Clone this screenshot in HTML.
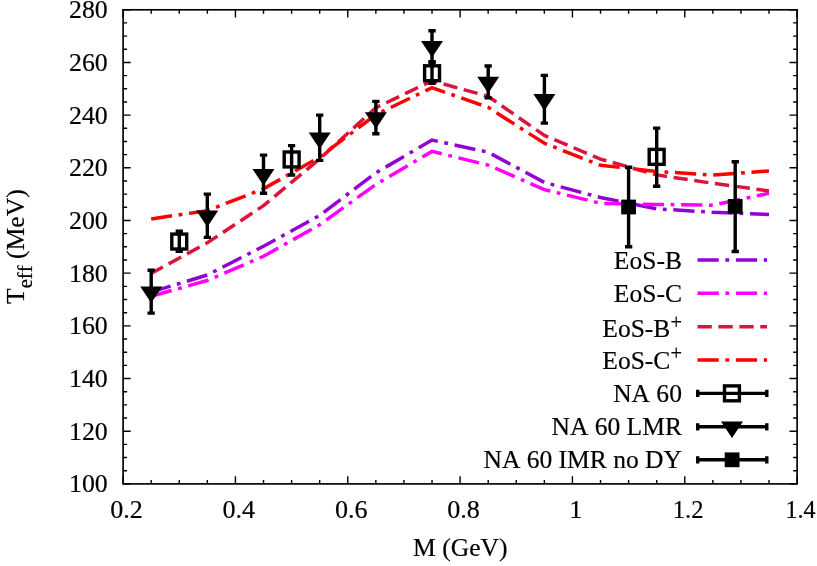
<!DOCTYPE html>
<html><head><meta charset="utf-8"><title>Teff vs M</title>
<style>html,body{margin:0;padding:0;background:#fff;}body{width:817px;height:566px;overflow:hidden;}svg{display:block;will-change:transform;}text{font-kerning:none;font-family:"Liberation Serif", serif;font-size:25px;fill:#000;stroke:#000;stroke-width:0.18px;}</style>
</head><body>
<svg width="817" height="566" viewBox="0 0 817 566">
<rect x="0" y="0" width="817" height="566" fill="#ffffff"/>
<polyline points="151.2,292.1 207.3,275.0 263.5,246.2 319.7,215.4 375.9,172.8 432.0,140.1 488.2,152.2 544.4,182.5 600.5,197.5 656.7,208.8 712.9,212.3 769.0,214.4" fill="none" stroke="#9400d3" stroke-width="3.5" stroke-dasharray="21.25 6.65 3.8 6.68" stroke-dashoffset="1" stroke-linejoin="miter"/>
<polyline points="151.2,296.3 207.3,280.5 263.5,256.3 319.7,224.7 375.9,184.4 432.0,151.4 488.2,165.1 544.4,189.6 600.5,203.3 656.7,204.4 712.9,205.2 769.0,193.3" fill="none" stroke="#ff00ff" stroke-width="3.5" stroke-dasharray="21.25 6.65 3.8 6.68" stroke-dashoffset="0" stroke-linejoin="miter"/>
<polyline points="151.2,273.4 207.3,242.8 263.5,205.7 319.7,158.8 375.9,107.7 432.0,80.8 488.2,96.4 544.4,135.4 600.5,159.1 656.7,174.9 712.9,183.3 769.0,190.9" fill="none" stroke="#dc143c" stroke-width="3.5" stroke-dasharray="14.3 6.62" stroke-dashoffset="1" stroke-linejoin="miter"/>
<polyline points="151.2,218.9 207.3,210.7 263.5,188.8 319.7,157.0 375.9,114.6 432.0,87.7 488.2,107.4 544.4,143.3 600.5,165.3 656.7,171.4 712.9,175.1 769.0,170.9" fill="none" stroke="#ff0000" stroke-width="3.5" stroke-dasharray="21.25 6.65 3.8 6.68" stroke-dashoffset="0.2" stroke-linejoin="miter"/>
<path d="M179.3 231.3V251.4M175.6 231.3H182.9M175.6 251.4H182.9" stroke="#000" stroke-width="3.4" fill="none"/>
<rect x="171.8" y="234.1" width="14.9" height="14.9" fill="none" stroke="#000" stroke-width="3.4"/>
<path d="M291.6 145.6V175.0M288.0 145.6H295.2M288.0 175.0H295.2" stroke="#000" stroke-width="3.4" fill="none"/>
<rect x="284.2" y="152.0" width="14.9" height="14.9" fill="none" stroke="#000" stroke-width="3.4"/>
<path d="M432.0 62.6V83.2M428.4 62.6H435.7M428.4 83.2H435.7" stroke="#000" stroke-width="3.4" fill="none"/>
<rect x="424.6" y="65.8" width="14.9" height="14.9" fill="none" stroke="#000" stroke-width="3.4"/>
<path d="M656.7 128.1V186.3M653.0 128.1H660.3M653.0 186.3H660.3" stroke="#000" stroke-width="3.4" fill="none"/>
<rect x="649.2" y="149.4" width="14.9" height="14.9" fill="none" stroke="#000" stroke-width="3.4"/>
<path d="M151.2 270.3V313.1M147.5 270.3H154.8M147.5 313.1H154.8" stroke="#000" stroke-width="3.4" fill="none"/>
<path d="M140.2 286.4L162.2 286.4L151.2 303.0Z" fill="#000"/>
<path d="M207.3 194.1V237.4M203.7 194.1H211.0M203.7 237.4H211.0" stroke="#000" stroke-width="3.4" fill="none"/>
<path d="M196.3 210.4L218.3 210.4L207.3 227.1Z" fill="#000"/>
<path d="M263.5 155.1V193.3M259.9 155.1H267.2M259.9 193.3H267.2" stroke="#000" stroke-width="3.4" fill="none"/>
<path d="M252.5 168.9L274.5 168.9L263.5 185.5Z" fill="#000"/>
<path d="M319.7 115.1V160.4M316.0 115.1H323.3M316.0 160.4H323.3" stroke="#000" stroke-width="3.4" fill="none"/>
<path d="M308.7 132.4L330.7 132.4L319.7 149.1Z" fill="#000"/>
<path d="M375.9 101.4V133.7M372.2 101.4H379.5M372.2 133.7H379.5" stroke="#000" stroke-width="3.4" fill="none"/>
<path d="M364.9 112.2L386.9 112.2L375.9 128.8Z" fill="#000"/>
<path d="M432.0 30.7V61.7M428.4 30.7H435.7M428.4 61.7H435.7" stroke="#000" stroke-width="3.4" fill="none"/>
<path d="M421.0 40.9L443.0 40.9L432.0 57.5Z" fill="#000"/>
<path d="M488.2 66.0V97.9M484.5 66.0H491.8M484.5 97.9H491.8" stroke="#000" stroke-width="3.4" fill="none"/>
<path d="M477.2 76.7L499.2 76.7L488.2 93.3Z" fill="#000"/>
<path d="M544.4 75.4V123.1M540.7 75.4H548.0M540.7 123.1H548.0" stroke="#000" stroke-width="3.4" fill="none"/>
<path d="M533.4 94.1L555.4 94.1L544.4 110.7Z" fill="#000"/>
<path d="M628.6 167.3V246.8M625.0 167.3H632.3M625.0 246.8H632.3" stroke="#000" stroke-width="3.4" fill="none"/>
<rect x="621.2" y="199.6" width="14.8" height="14.8" fill="#000"/>
<path d="M735.2 161.8V251.5M731.6 161.8H738.9M731.6 251.5H738.9" stroke="#000" stroke-width="3.4" fill="none"/>
<rect x="727.8" y="199.0" width="14.8" height="14.8" fill="#000"/>
<path d="M123.1 483.90h7.6M797.1 483.90h-7.6M123.1 470.73h4.0M797.1 470.73h-4.0M123.1 457.56h4.0M797.1 457.56h-4.0M123.1 444.39h4.0M797.1 444.39h-4.0M123.1 431.22h7.6M797.1 431.22h-7.6M123.1 418.05h4.0M797.1 418.05h-4.0M123.1 404.88h4.0M797.1 404.88h-4.0M123.1 391.70h4.0M797.1 391.70h-4.0M123.1 378.53h7.6M797.1 378.53h-7.6M123.1 365.36h4.0M797.1 365.36h-4.0M123.1 352.19h4.0M797.1 352.19h-4.0M123.1 339.02h4.0M797.1 339.02h-4.0M123.1 325.85h7.6M797.1 325.85h-7.6M123.1 312.68h4.0M797.1 312.68h-4.0M123.1 299.51h4.0M797.1 299.51h-4.0M123.1 286.34h4.0M797.1 286.34h-4.0M123.1 273.17h7.6M797.1 273.17h-7.6M123.1 260.00h4.0M797.1 260.00h-4.0M123.1 246.82h4.0M797.1 246.82h-4.0M123.1 233.65h4.0M797.1 233.65h-4.0M123.1 220.48h7.6M797.1 220.48h-7.6M123.1 207.31h4.0M797.1 207.31h-4.0M123.1 194.14h4.0M797.1 194.14h-4.0M123.1 180.97h4.0M797.1 180.97h-4.0M123.1 167.80h7.6M797.1 167.80h-7.6M123.1 154.63h4.0M797.1 154.63h-4.0M123.1 141.46h4.0M797.1 141.46h-4.0M123.1 128.29h4.0M797.1 128.29h-4.0M123.1 115.12h7.6M797.1 115.12h-7.6M123.1 101.95h4.0M797.1 101.95h-4.0M123.1 88.77h4.0M797.1 88.77h-4.0M123.1 75.60h4.0M797.1 75.60h-4.0M123.1 62.43h7.6M797.1 62.43h-7.6M123.1 49.26h4.0M797.1 49.26h-4.0M123.1 36.09h4.0M797.1 36.09h-4.0M123.1 22.92h4.0M797.1 22.92h-4.0M123.1 9.75h7.6M797.1 9.75h-7.6M123.10 483.9v-7.6M123.10 9.8v7.6M151.18 483.9v-4.0M151.18 9.8v4.0M179.27 483.9v-4.0M179.27 9.8v4.0M207.35 483.9v-4.0M207.35 9.8v4.0M235.43 483.9v-7.6M235.43 9.8v7.6M263.52 483.9v-4.0M263.52 9.8v4.0M291.60 483.9v-4.0M291.60 9.8v4.0M319.68 483.9v-4.0M319.68 9.8v4.0M347.77 483.9v-7.6M347.77 9.8v7.6M375.85 483.9v-4.0M375.85 9.8v4.0M403.93 483.9v-4.0M403.93 9.8v4.0M432.02 483.9v-4.0M432.02 9.8v4.0M460.10 483.9v-7.6M460.10 9.8v7.6M488.18 483.9v-4.0M488.18 9.8v4.0M516.27 483.9v-4.0M516.27 9.8v4.0M544.35 483.9v-4.0M544.35 9.8v4.0M572.43 483.9v-7.6M572.43 9.8v7.6M600.52 483.9v-4.0M600.52 9.8v4.0M628.60 483.9v-4.0M628.60 9.8v4.0M656.68 483.9v-4.0M656.68 9.8v4.0M684.77 483.9v-7.6M684.77 9.8v7.6M712.85 483.9v-4.0M712.85 9.8v4.0M740.93 483.9v-4.0M740.93 9.8v4.0M769.02 483.9v-4.0M769.02 9.8v4.0M797.10 483.9v-7.6M797.10 9.8v7.6" stroke="#000" stroke-width="1.4" fill="none"/>
<rect x="123.1" y="9.8" width="674.0" height="474.1" fill="none" stroke="#000" stroke-width="1.65"/>
<text transform="translate(107.8,492.3) scale(1.035,1)" text-anchor="end">100</text>
<text transform="translate(107.8,439.6) scale(1.035,1)" text-anchor="end">120</text>
<text transform="translate(107.8,386.9) scale(1.035,1)" text-anchor="end">140</text>
<text transform="translate(107.8,334.2) scale(1.035,1)" text-anchor="end">160</text>
<text transform="translate(107.8,281.6) scale(1.035,1)" text-anchor="end">180</text>
<text transform="translate(107.8,228.9) scale(1.035,1)" text-anchor="end">200</text>
<text transform="translate(107.8,176.2) scale(1.035,1)" text-anchor="end">220</text>
<text transform="translate(107.8,123.5) scale(1.035,1)" text-anchor="end">240</text>
<text transform="translate(107.8,70.8) scale(1.035,1)" text-anchor="end">260</text>
<text transform="translate(107.8,18.1) scale(1.035,1)" text-anchor="end">280</text>
<text transform="translate(126.5,518.2) scale(1.045,1)" text-anchor="middle">0.2</text>
<text transform="translate(238.8,518.2) scale(1.045,1)" text-anchor="middle">0.4</text>
<text transform="translate(351.2,518.2) scale(1.045,1)" text-anchor="middle">0.6</text>
<text transform="translate(463.5,518.2) scale(1.045,1)" text-anchor="middle">0.8</text>
<text transform="translate(575.8,518.2) scale(1.045,1)" text-anchor="middle">1</text>
<text transform="translate(688.1,518.2) scale(0.985,1)" text-anchor="middle">1.2</text>
<text transform="translate(800.4,518.2) scale(0.96,1)" text-anchor="middle">1.4</text>
<text transform="translate(460.3,556.1) scale(1.026,1)" text-anchor="middle">M (GeV)</text>
<text transform="translate(24.1,246.6) rotate(-90) scale(1.026,1)" text-anchor="middle">T<tspan font-size="20px" dy="7.5">eff</tspan><tspan dy="-7.5"> (MeV)</tspan></text>
<text transform="translate(681.9,268.5) scale(1.021,1)" text-anchor="end">EoS-B</text>
<text transform="translate(681.9,301.8) scale(1.021,1)" text-anchor="end">EoS-C</text>
<text transform="translate(681.9,337.1) scale(1.021,1)" text-anchor="end">EoS-B<tspan font-size="20px" dy="-8.4">+</tspan></text>
<text transform="translate(681.9,368.6) scale(1.021,1)" text-anchor="end">EoS-C<tspan font-size="20px" dy="-8.4">+</tspan></text>
<text transform="translate(681.9,401.9) scale(1.021,1)" text-anchor="end">NA 60</text>
<text transform="translate(681.9,435.3) scale(1.021,1)" text-anchor="end">NA 60 LMR</text>
<text transform="translate(681.9,468.3) scale(1.021,1)" text-anchor="end">NA 60 IMR no DY</text>
<path d="M697.5 260.0H767.0" stroke="#9400d3" stroke-width="3.5" stroke-dasharray="21.25 6.65 3.8 6.68" fill="none"/>
<path d="M697.5 293.3H767.0" stroke="#ff00ff" stroke-width="3.5" stroke-dasharray="21.25 6.65 3.8 6.68" fill="none"/>
<path d="M697.5 326.8H767.0" stroke="#dc143c" stroke-width="3.5" stroke-dasharray="14.3 6.62" fill="none"/>
<path d="M697.5 360.1H767.0" stroke="#ff0000" stroke-width="3.5" stroke-dasharray="21.25 6.65 3.8 6.68" fill="none"/>
<path d="M697.7 393.4H766.8M697.7 389.8V397.0M766.8 389.8V397.0" stroke="#000" stroke-width="3.4" fill="none"/>
<path d="M697.7 426.8H766.8M697.7 423.2V430.4M766.8 423.2V430.4" stroke="#000" stroke-width="3.4" fill="none"/>
<path d="M697.7 459.8H766.8M697.7 456.2V463.4M766.8 456.2V463.4" stroke="#000" stroke-width="3.4" fill="none"/>
<rect x="724.5" y="385.9" width="14.9" height="14.9" fill="none" stroke="#000" stroke-width="3.4"/>
<path d="M721.0 421.5L743.0 421.5L732.0 438.1Z" fill="#000"/>
<rect x="724.7" y="452.4" width="14.8" height="14.8" fill="#000"/>
</svg></body></html>
